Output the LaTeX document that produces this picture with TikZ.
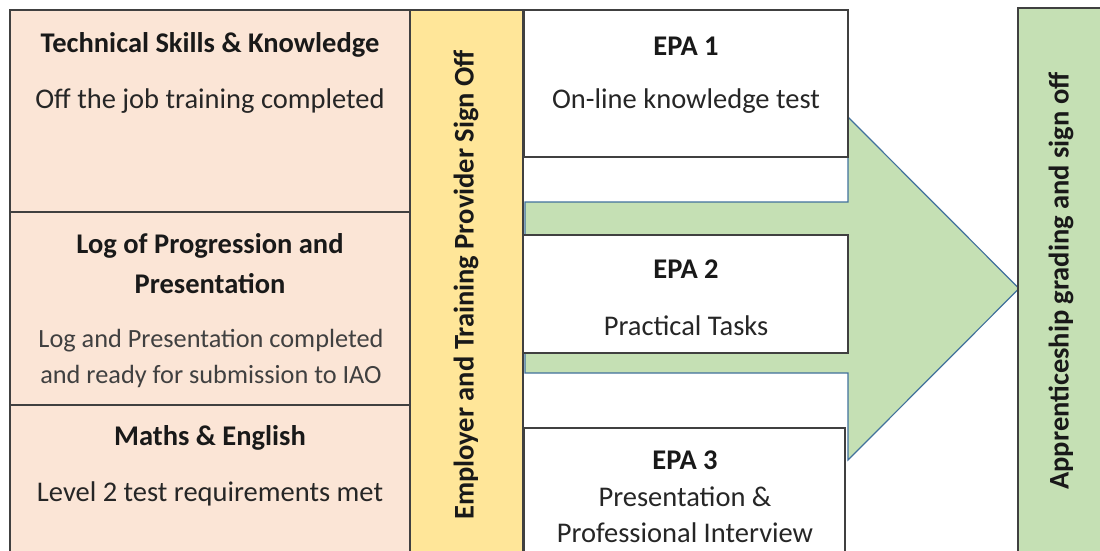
\documentclass[tikz,border=0pt]{standalone}
\usepackage{fontspec}
\setmainfont{Carlito}
\definecolor{peach}{HTML}{FBE5D6}
\definecolor{gold}{HTML}{FFE699}
\definecolor{lgreen}{HTML}{C5E0B4}
\definecolor{edge}{HTML}{404040}
\definecolor{arrowedge}{HTML}{41719C}
\definecolor{softtext}{HTML}{404040}
\begin{document}
\begin{tikzpicture}[x=1pt,y=-1pt,
  panel/.style={draw=edge, line width=1.3pt, inner sep=0pt, outer sep=0pt, anchor=north west},
  title/.style={font=\bfseries\fontsize{28.5}{33}\selectfont, text=black!90, inner sep=0pt},
  body/.style={font=\fontsize{28.5}{33}\selectfont, text=black!85, inner sep=0pt},
  soft/.style={font=\fontsize{26.3}{31}\selectfont, text=softtext, inner sep=0pt},
  bigarrow/.style={fill=lgreen, draw=arrowedge, line width=1.2pt, line join=miter}]
\useasboundingbox (0,0) rectangle (1100,550);
\clip (0,0) rectangle (1100,550);
% left column
\node[panel, fill=peach, minimum width=400pt, minimum height=202pt] (tsk) at (10,10) {};
\node[panel, fill=peach, minimum width=400pt, minimum height=193pt] (log) at (10,212) {};
\node[panel, fill=peach, minimum width=400pt, minimum height=170pt] (me) at (10,405) {};
% sign-off column
\node[panel, fill=gold, minimum width=113pt, minimum height=560pt] (sign) at (410,10) {};
% big arrow
\coordinate (a1) at (525,202);
\coordinate (a2) at (848,202);
\coordinate (a3) at (848,117);
\coordinate (tip) at (1019,288.5);
\coordinate (a5) at (848,460);
\coordinate (a6) at (848,373);
\coordinate (a7) at (525,373);
\draw[bigarrow] (a1) -- (a2) -- (a3) -- (tip) -- (a5) -- (a6) -- (a7) -- cycle;
% EPA boxes
\node[panel, fill=white, minimum width=324pt, minimum height=147pt] (epa1) at (524,10) {};
\node[panel, fill=white, minimum width=325pt, minimum height=118pt] (epa2) at (523,235) {};
\node[panel, fill=white, minimum width=321pt, minimum height=150pt] (epa3) at (524,428) {};
% grading column
\node[panel, fill=lgreen, minimum width=100pt, minimum height=570pt] (grade) at (1018,8) {};
% texts
\node[title] (t1) at (210,45) {Technical Skills \& Knowledge};
\node[body] (b1) at (210,101) {Off the job training completed};
\node[title] (t2a) at (210,246) {Log of Progression and};
\node[title] (t2b) at (210,284) {Presentation};
\node[soft] (b2a) at (211,341) {Log and Presentation completed};
\node[soft] (b2b) at (211,376) {and ready for submission to IAO};
\node[title] (t3) at (210,438) {Maths \& English};
\node[body] (b3) at (210,494) {Level 2 test requirements met};
\node[title, rotate=90] (ys) at (466,285) {Employer and Training Provider Sign Off};
\node[title] (e1) at (686,46) {EPA 1};
\node[body] (e1b) at (686,101) {On-line knowledge test};
\node[title] (e2) at (686,269) {EPA 2};
\node[body] (e2b) at (686,326) {Practical Tasks};
\node[title] (e3) at (685,460) {EPA 3};
\node[body] (e3a) at (685,497) {Presentation \&};
\node[body] (e3b) at (685,533) {Professional Interview};
\node[title, rotate=90] (gs) at (1061,281) {Apprenticeship grading and sign off};
\end{tikzpicture}
\end{document}
